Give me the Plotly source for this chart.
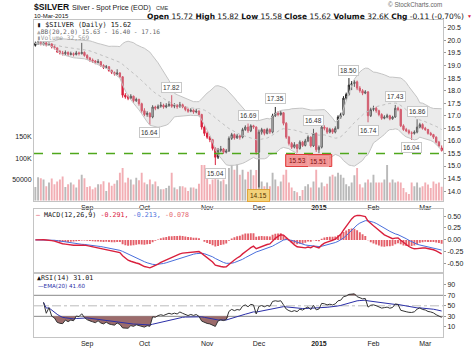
import numpy as np
import pandas as pd
import plotly.graph_objects as go

# ---------------- data ----------------
market_holidays = ['2014-09-01', '2014-11-27', '2014-12-25', '2015-01-01', '2015-01-19', '2015-02-16']
trading_days = [d.strftime('%Y-%m-%d') for d in pd.bdate_range('2014-08-05', '2015-03-10')
                if d.strftime('%Y-%m-%d') not in market_holidays]

month_ticks = ['2014-09-02', '2014-10-01', '2014-11-03', '2014-12-01', '2015-01-02', '2015-02-02', '2015-03-02']
month_labels = ['Sep', 'Oct', 'Nov', 'Dec', '<b>2015</b>', 'Feb', 'Mar']

opens = [19.80, 19.88, 19.93, 19.84, 19.90, 19.83, 19.86, 19.75, 19.70, 19.56,
         19.50, 19.47, 19.52, 19.44, 19.47, 19.44, 19.50, 19.47, 19.52, 19.40,
         19.30, 19.22, 19.18, 19.12, 19.15, 19.00, 18.92, 18.95, 18.80, 18.72,
         18.66, 18.70, 18.55, 17.82, 17.76, 17.70, 17.78, 17.60, 17.65, 17.48,
         17.20, 17.05, 17.10, 16.95, 17.35, 17.30, 17.38, 17.42, 17.35, 17.40,
         17.45, 17.38, 17.42, 17.36, 17.44, 17.35, 17.25, 17.18, 17.22, 17.15,
         17.18, 17.05, 16.55, 16.30, 16.15, 16.05, 15.70, 15.35, 15.62, 15.68,
         15.55, 15.60, 16.10, 16.25, 16.12, 16.20, 16.15, 16.45, 16.55, 16.40,
         16.60, 16.55, 15.55, 16.35, 16.45, 16.30, 16.45, 16.35, 17.00, 17.10,
         17.05, 17.12, 16.70, 16.15, 15.90, 15.75, 15.85, 15.70, 15.95, 15.82,
         16.00, 16.15, 15.80, 16.30, 15.65, 15.75, 16.55, 16.50, 16.35, 16.45,
         16.35, 16.50, 16.95, 17.05, 17.70, 17.85, 18.22, 18.28, 18.35, 18.10,
         18.00, 17.90, 17.95, 17.00, 17.25, 17.30, 17.20, 17.05, 16.90, 16.95,
         17.00, 16.88, 16.95, 17.30, 17.25, 16.60, 16.45, 16.40, 16.32, 16.30,
         16.35, 16.55, 16.65, 16.50, 16.45, 16.30, 16.25, 16.15, 15.95, 15.72]
highs = [19.95, 19.98, 19.96, 19.95, 19.93, 19.92, 19.88, 19.80, 19.72, 19.62,
         19.58, 19.60, 19.56, 19.55, 19.52, 19.58, 19.55, 19.90, 19.56, 19.45,
         19.34, 19.28, 19.22, 19.25, 19.18, 19.05, 19.02, 18.98, 18.84, 18.76,
         18.85, 18.74, 18.58, 17.90, 17.84, 17.86, 17.80, 17.72, 17.68, 17.52,
         17.30, 17.18, 17.14, 17.42, 17.40, 17.45, 17.55, 17.48, 17.50, 17.58,
         17.82, 17.50, 17.46, 17.55, 17.48, 17.38, 17.30, 17.30, 17.26, 17.28,
         17.22, 17.08, 16.62, 16.38, 16.20, 16.08, 15.75, 15.72, 15.80, 15.72,
         15.68, 16.18, 16.32, 16.30, 16.28, 16.24, 16.52, 16.62, 16.69, 16.66,
         16.64, 16.58, 16.45, 16.52, 16.48, 16.52, 16.50, 17.08, 17.35, 17.18,
         17.20, 17.15, 16.75, 16.20, 15.96, 15.95, 15.88, 16.02, 16.00, 16.08,
         16.22, 16.18, 16.48, 16.34, 15.82, 16.60, 16.62, 16.55, 16.52, 16.50,
         16.58, 17.02, 17.12, 17.78, 17.92, 18.50, 18.38, 18.42, 18.40, 18.18,
         18.06, 18.02, 17.98, 17.32, 17.40, 17.36, 17.24, 17.10, 17.02, 17.08,
         17.04, 17.00, 17.43, 17.36, 17.28, 16.66, 16.52, 16.46, 16.38, 16.42,
         16.86, 16.72, 16.70, 16.56, 16.48, 16.36, 16.28, 16.18, 16.00, 15.82]
lows = [19.75, 19.82, 19.80, 19.80, 19.76, 19.78, 19.68, 19.64, 19.50, 19.44,
        19.40, 19.42, 19.38, 19.40, 19.36, 19.40, 19.40, 19.44, 19.35, 19.22,
        19.15, 19.10, 19.05, 19.08, 18.95, 18.86, 18.88, 18.75, 18.66, 18.60,
        18.62, 18.50, 17.72, 17.68, 17.62, 17.66, 17.52, 17.55, 17.40, 17.12,
        16.98, 16.96, 16.64, 16.90, 17.22, 17.26, 17.32, 17.28, 17.30, 17.36,
        17.32, 17.30, 17.28, 17.32, 17.30, 17.18, 17.12, 17.14, 17.08, 17.10,
        16.98, 16.45, 16.20, 16.08, 15.95, 15.62, 15.04, 15.28, 15.55, 15.48,
        15.50, 15.56, 16.04, 16.05, 16.08, 16.05, 16.10, 16.40, 16.32, 16.35,
        16.48, 15.45, 14.15, 16.25, 16.22, 16.26, 16.28, 16.30, 16.95, 16.98,
        17.00, 16.62, 16.08, 15.82, 15.68, 15.70, 15.53, 15.65, 15.76, 15.78,
        15.95, 15.74, 15.76, 15.56, 15.51, 15.70, 16.42, 16.28, 16.30, 16.28,
        16.30, 16.46, 16.88, 17.00, 17.62, 17.80, 18.02, 18.15, 18.02, 17.92,
        17.82, 17.86, 16.74, 16.95, 17.18, 17.12, 16.98, 16.84, 16.86, 16.90,
        16.82, 16.84, 16.92, 17.18, 16.55, 16.40, 16.35, 16.26, 16.04, 16.25,
        16.30, 16.50, 16.45, 16.40, 16.25, 16.20, 16.08, 15.90, 15.75, 15.58]
closes = [19.88, 19.92, 19.85, 19.90, 19.82, 19.86, 19.74, 19.70, 19.55, 19.50,
          19.48, 19.52, 19.45, 19.47, 19.44, 19.50, 19.48, 19.52, 19.40, 19.30,
          19.22, 19.18, 19.12, 19.15, 19.00, 18.92, 18.95, 18.80, 18.72, 18.66,
          18.70, 18.55, 17.82, 17.75, 17.70, 17.78, 17.60, 17.65, 17.48, 17.20,
          17.05, 17.10, 16.95, 17.35, 17.30, 17.38, 17.42, 17.35, 17.40, 17.45,
          17.38, 17.42, 17.36, 17.44, 17.35, 17.25, 17.18, 17.22, 17.15, 17.18,
          17.05, 16.55, 16.30, 16.15, 16.05, 15.70, 15.35, 15.62, 15.68, 15.55,
          15.60, 16.10, 16.25, 16.12, 16.20, 16.15, 16.45, 16.55, 16.40, 16.60,
          16.55, 15.55, 16.35, 16.45, 16.30, 16.45, 16.35, 17.00, 17.10, 17.05,
          17.12, 16.70, 16.15, 15.90, 15.75, 15.85, 15.70, 15.95, 15.82, 16.00,
          16.15, 15.80, 16.30, 15.65, 15.75, 16.55, 16.50, 16.35, 16.45, 16.35,
          16.50, 16.95, 17.05, 17.70, 17.85, 18.22, 18.28, 18.35, 18.10, 18.00,
          17.90, 17.95, 17.00, 17.25, 17.30, 17.20, 17.05, 16.90, 16.95, 17.00,
          16.88, 16.95, 17.30, 17.25, 16.60, 16.45, 16.40, 16.32, 16.30, 16.35,
          16.55, 16.65, 16.50, 16.45, 16.30, 16.25, 16.15, 15.95, 15.80, 15.62]
volume_k = [32, 55, 53, 50, 34, 43, 52, 39, 45, 50, 57, 32, 39, 43, 38, 31, 50, 61, 53, 32,
            34, 27, 31, 39, 39, 46, 23, 43, 35, 40, 48, 66, 77, 43, 54, 50, 38, 54, 48, 66,
            43, 39, 50, 39, 45, 34, 27, 27, 30, 35, 66, 31, 27, 34, 34, 31, 23, 31, 31, 28,
            40, 84, 84, 61, 39, 50, 62, 50, 46, 50, 39, 77, 84, 73, 86, 61, 73, 50, 68, 73,
            60, 72, 110, 45, 34, 43, 34, 66, 50, 34, 45, 61, 73, 43, 31, 23, 20, 11, 25, 34,
            39, 31, 45, 73, 31, 43, 34, 40, 57, 61, 57, 66, 61, 54, 39, 34, 43, 60, 77, 39,
            31, 43, 50, 43, 61, 43, 43, 43, 50, 84, 43, 50, 43, 45, 43, 30, 20, 16, 43, 34,
            43, 31, 34, 43, 38, 30, 45, 40, 43, 33]

price_ticks = [14.0, 14.5, 15.0, 15.5, 16.0, 16.5, 17.0, 17.5, 18.0, 18.5, 19.0, 19.5, 20.0, 20.5]
volume_ticks = [50, 100, 150]
volume_tick_labels = ['50000', '100K', '150K']
macd_ticks = [-0.5, -0.25, 0.0, 0.25, 0.5]
macd_tick_labels = ['-0.50', '-0.25', '0.00', '0.25', '0.50']
rsi_ticks = [10, 30, 50, 70, 90]
support_level = 15.5

# (bar index, which extreme) for the price call-outs
high_low_labels = [(42, 'low'), (50, 'high'), (66, 'low'), (78, 'high'), (88, 'high'),
                   (102, 'high'), (115, 'high'), (122, 'low'), (132, 'high'), (138, 'low'),
                   (140, 'high')]
highlight_low = 82              # yellow call-out
boxed_lows = [96, 104]          # red highlighted pair

# ---------------- indicators (derived from closes) ----------------
c = pd.Series(closes)
bb_mid = c.rolling(20, min_periods=1).mean()
bb_sd = c.rolling(20, min_periods=1).std(ddof=0)
bb_up = bb_mid + 2 * bb_sd
bb_lo = bb_mid - 2 * bb_sd
ema12 = c.ewm(span=12, adjust=False).mean()
ema26 = c.ewm(span=26, adjust=False).mean()
macd = ema12 - ema26
signal = macd.ewm(span=9, adjust=False).mean()
hist = macd - signal
delta = c.diff()
gain = delta.clip(lower=0)
loss = (-delta).clip(lower=0)
ag = gain.ewm(alpha=1 / 14, adjust=True, min_periods=3).mean()
al = loss.ewm(alpha=1 / 14, adjust=True, min_periods=3).mean()
rsi = 100 - 100 / (1 + ag / al)
rsi_ema = rsi.ewm(span=20, adjust=True).mean()

RED = '#d9203d'
BLUE = '#4a6fdc'
vol_colors = ['#b9b9b9'] + ['#b9b9b9' if closes[i] >= closes[i - 1] else '#f2aeb4'
                            for i in range(1, len(closes))]

fig = go.Figure()
x = trading_days

# volume (base axis, left)
fig.add_trace(go.Bar(x=x, y=volume_k, marker=dict(color=vol_colors, line=dict(width=0)),
                     xaxis='x', yaxis='y', hoverinfo='skip'))
# Bollinger bands
fig.add_trace(go.Scatter(x=x, y=bb_up, mode='lines', line=dict(color='#c4c4c4', width=1),
                         xaxis='x', yaxis='y2', hoverinfo='skip'))
fig.add_trace(go.Scatter(x=x, y=bb_lo, mode='lines', line=dict(color='#c4c4c4', width=1),
                         fill='tonexty', fillcolor='rgba(200,200,200,0.36)',
                         xaxis='x', yaxis='y2', hoverinfo='skip'))
fig.add_trace(go.Scatter(x=x, y=bb_mid, mode='lines', line=dict(color='#c0c0c0', width=1, dash='dot'),
                         xaxis='x', yaxis='y2', hoverinfo='skip'))
# candles
fig.add_trace(go.Candlestick(x=x, open=opens, high=highs, low=lows, close=closes,
                             increasing=dict(line=dict(color='#222222', width=1), fillcolor='#ffffff'),
                             decreasing=dict(line=dict(color=RED, width=1), fillcolor=RED),
                             whiskerwidth=0, xaxis='x', yaxis='y2', hoverinfo='skip'))

# MACD
fig.add_trace(go.Bar(x=x, y=hist, marker=dict(color='#e4606a', line=dict(width=0)),
                     xaxis='x2', yaxis='y3', hoverinfo='skip'))
fig.add_trace(go.Scatter(x=x, y=signal, mode='lines', line=dict(color=BLUE, width=1),
                         xaxis='x2', yaxis='y3', hoverinfo='skip'))
fig.add_trace(go.Scatter(x=x, y=macd, mode='lines', line=dict(color=RED, width=1.4),
                         xaxis='x2', yaxis='y3', hoverinfo='skip'))

# RSI
n = len(closes)
fig.add_trace(go.Scatter(x=x, y=[30] * n, mode='lines', line=dict(width=0), xaxis='x3', yaxis='y4',
                         hoverinfo='skip'))
fig.add_trace(go.Scatter(x=x, y=np.minimum(rsi, 30), mode='lines', line=dict(width=0),
                         fill='tonexty', fillcolor='#9b6b6b', xaxis='x3', yaxis='y4', hoverinfo='skip'))
fig.add_trace(go.Scatter(x=x, y=[70] * n, mode='lines', line=dict(width=0), xaxis='x3', yaxis='y4',
                         hoverinfo='skip'))
fig.add_trace(go.Scatter(x=x, y=np.maximum(rsi, 70), mode='lines', line=dict(width=0),
                         fill='tonexty', fillcolor='#9b6b6b', xaxis='x3', yaxis='y4', hoverinfo='skip'))
fig.add_trace(go.Scatter(x=x, y=rsi_ema, mode='lines', line=dict(color='#2b2fa8', width=1),
                         xaxis='x3', yaxis='y4', hoverinfo='skip'))
fig.add_trace(go.Scatter(x=x, y=rsi, mode='lines', line=dict(color='#333333', width=1),
                         xaxis='x3', yaxis='y4', hoverinfo='skip'))

# ---------------- layout ----------------
W, H = 474, 359
ML, MR, MT, MB = 34, 31, 20, 11
PW, PH = W - ML - MR, H - MT - MB


def px(xp):
    return (xp - ML) / PW


def py(yp):
    return (H - MB - yp) / PH


SANS = 'Liberation Sans'
AX = dict(showgrid=False, zeroline=False, showline=True, linecolor='#c4c4c4', linewidth=1, mirror=True)
TF = dict(family=SANS, size=7, color='#222222')
main_dom = [py(207), 1.0]
macd_dom = [py(282), py(216)]
rsi_dom = [0.0, py(282)]

fig.update_layout(
    width=W, height=H, margin=dict(l=ML, r=MR, t=MT, b=MB),
    paper_bgcolor='white', plot_bgcolor='white', showlegend=False,
    bargap=0.3,
    xaxis=dict(AX, type='category', anchor='y', domain=[0, 1], tickvals=month_ticks, ticktext=month_labels,
               tickfont=TF, ticks='', rangeslider=dict(visible=False), range=[-0.5, n - 0.5]),
    yaxis=dict(AX, domain=main_dom, side='left', range=[0, 425], tickvals=volume_ticks,
               ticktext=volume_tick_labels, tickfont=TF, ticks=''),
    yaxis2=dict(AX, overlaying='y', side='right', range=[13.62, 20.81], tickvals=price_ticks,
                tickformat='.1f', tickfont=TF, ticks='outside', ticklen=2, tickcolor='#999999'),
    xaxis2=dict(AX, type='category', anchor='y3', domain=[0, 1], matches='x', showticklabels=False, ticks=''),
    yaxis3=dict(AX, domain=macd_dom, anchor='x2', side='right', range=[-0.70, 0.64], tickvals=macd_ticks,
                ticktext=macd_tick_labels, tickfont=TF, ticks='outside', ticklen=2, tickcolor='#999999'),
    xaxis3=dict(AX, type='category', anchor='y4', domain=[0, 1], matches='x', tickvals=month_ticks,
                ticktext=month_labels, tickfont=TF, ticks=''),
    yaxis4=dict(AX, domain=rsi_dom, anchor='x3', side='right', range=[-9.3, 112], tickvals=rsi_ticks,
                tickfont=TF, ticks='outside', ticklen=2, tickcolor='#999999'),
)

shapes = []
# support line
shapes.append(dict(type='line', xref='x domain', yref='y2', x0=0, x1=1, y0=support_level, y1=support_level,
                   line=dict(color='#4fa81c', width=1.5, dash='dash')))
# RSI guide lines
for lvl, col, dash in [(70, '#888888', 'solid'), (30, '#888888', 'solid'), (50, '#bbbbbb', 'dashdot')]:
    shapes.append(dict(type='line', xref='x3 domain', yref='y4', x0=0, x1=1, y0=lvl, y1=lvl,
                       line=dict(color=col, width=1, dash=dash), layer='below'))
# red highlight box around the two December/January lows
lo_a, lo_b = boxed_lows
shapes.append(dict(type='rect', xref='x', yref='y2', x0=lo_a - 4.2, x1=lo_b + 4.7,
                   ysizemode='pixel', yanchor=(lows[lo_a] + lows[lo_b]) / 2, y0=-1.5, y1=-13.5,
                   fillcolor='rgba(238,110,110,0.75)', line=dict(color='#e23a3a', width=1)))
fig.update_layout(shapes=shapes)

ann = []
LBL = dict(family=SANS, size=6.5, color='#333333')
for i, kind in high_low_labels:
    val = highs[i] if kind == 'high' else lows[i]
    ann.append(dict(x=x[i], y=val, xref='x', yref='y2', text=f'{val:.2f}', showarrow=False,
                    yshift=8 if kind == 'high' else -8, font=LBL, bgcolor='white',
                    bordercolor='#c8c8c8', borderwidth=1, borderpad=1))
for i in boxed_lows:
    ann.append(dict(x=x[i], y=lows[i], xref='x', yref='y2', text=f'{lows[i]:.2f}', showarrow=False,
                    yshift=-8, font=dict(LBL, color='#7a1010'), bgcolor='rgba(245,150,150,0.9)',
                    bordercolor='#f0a0a0', borderwidth=1, borderpad=1))
ann.append(dict(x=x[highlight_low], y=lows[highlight_low], xref='x', yref='y2',
                text=f'{lows[highlight_low]:.2f}', showarrow=False, yshift=-8,
                font=dict(LBL, color='#553300'), bgcolor='#f3d27a', bordercolor='#e2a53a',
                borderwidth=1, borderpad=2))


def txt(xp, yp, text, size=7, color='#222222', family=SANS, anchor='left'):
    ann.append(dict(xref='paper', yref='paper', x=px(xp), y=py(yp), text=text, showarrow=False,
                    xanchor=anchor, yanchor='middle', font=dict(family=family, size=size, color=color)))


# header
txt(32, 7, '<b>$SILVER</b>', size=8.6, color='#111111')
txt(70, 7.5, 'Silver - Spot Price (EOD)', size=7.1, color='#222222')
txt(154, 8, 'CME', size=5.5, color='#333333')
txt(32, 16, '10-Mar-2015', size=6, color='#111111')
txt(466, 16, '<b>Open</b> 15.72 <b>High</b> 15.82 <b>Low</b> 15.58 <b>Close</b> 15.62 '
             '<b>Volume</b> 32.6K <b>Chg</b> -0.11 (-0.70%)', size=7.5, color='#111111',
    family='DejaVu Sans', anchor='right')
txt(469, 16, '▼', size=5, color=RED, anchor='center')
txt(444, 4, '© StockCharts.com', size=6.3, color='#666666', anchor='right')

MONO = 'DejaVu Sans Mono'
txt(35, 25, '<b>▮</b> $SILVER (Daily) 15.62', size=6.8, color='#111111', family=MONO)
txt(35, 31.5, '<span style="color:#aaaaaa">▲</span>BB(20,2.0) 15.63 - 16.40 - 17.16', size=6.2,
    color='#666666', family=MONO)
txt(35, 38, '▮Volume 32,569', size=6.2, color='#9a9a9a', family=MONO)

txt(34, 222, f'<span style="color:{RED}">—</span> MACD(12,26,9) <span style="color:{RED}">-0.291,</span> '
             f'<span style="color:{BLUE}">-0.213,</span> <span style="color:#e4606a">-0.078</span>',
    size=6.7, color='#111111', family=MONO)
txt(35, 286.5, '▲RSI(14) 31.01', size=6.7, color='#111111', family=MONO)
txt(36, 295, '—EMA(20) 41.60', size=5.6, color='#2b2fa8', family='DejaVu Sans')

fig.update_layout(annotations=ann)
fig.write_html('out.html', config={'displayModeBar': False, 'staticPlot': True},
               post_script="document.body.style.margin='0';document.body.style.padding='0';")
